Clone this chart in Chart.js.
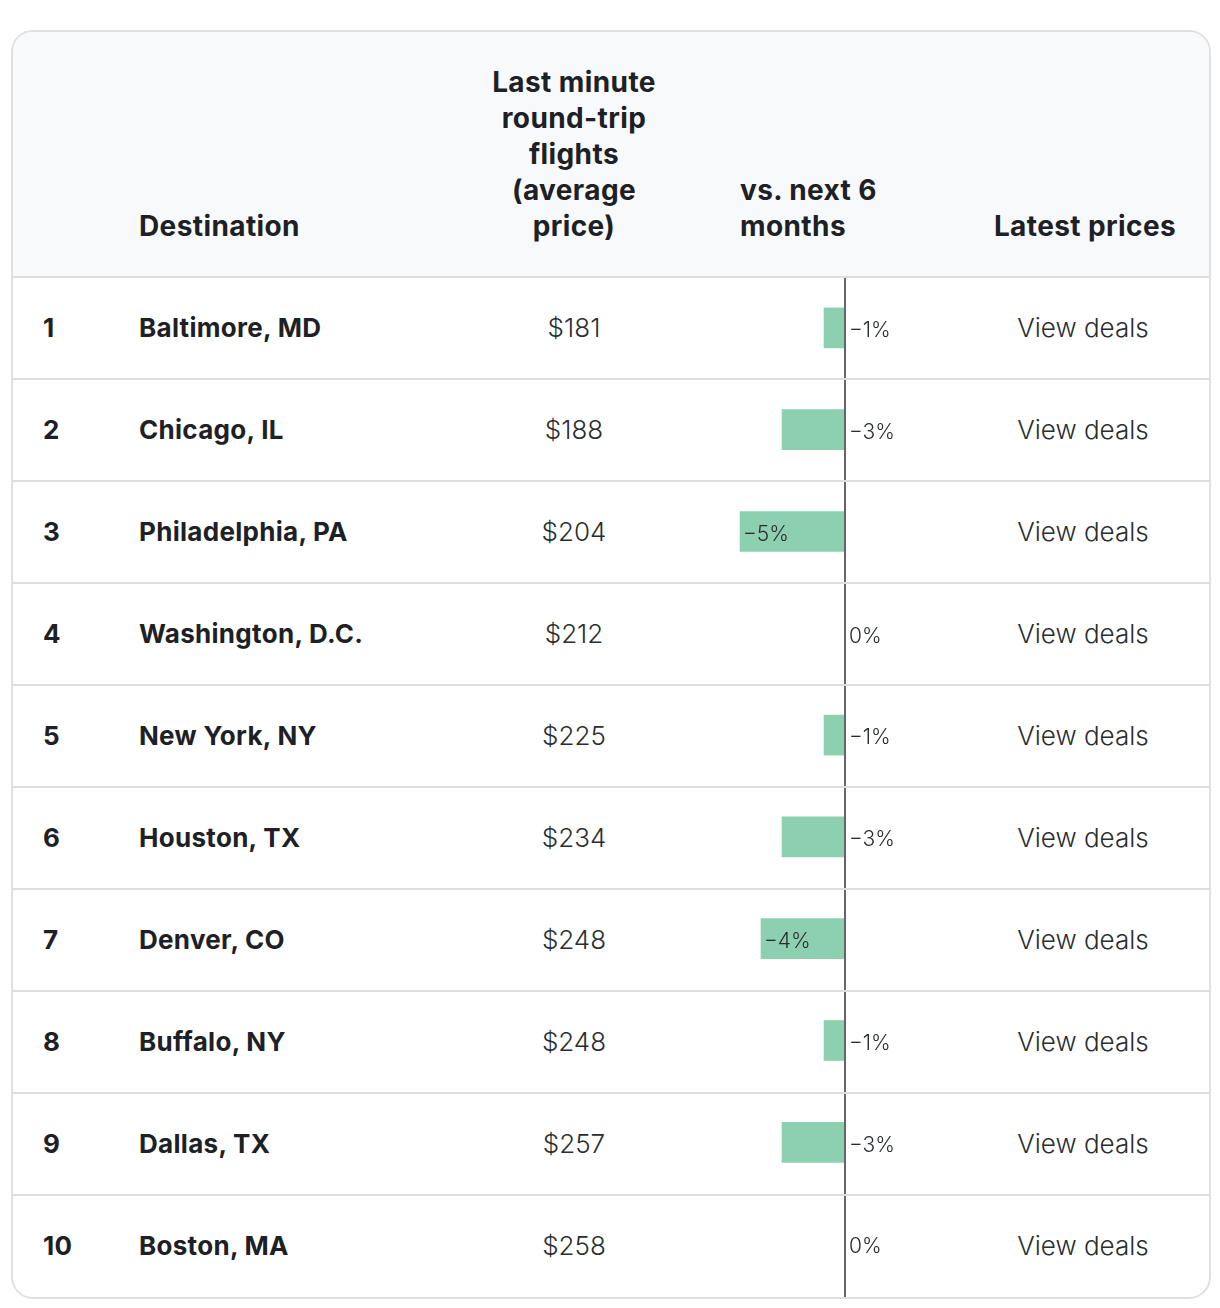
<!DOCTYPE html>
<html>
<head>
<meta charset="utf-8">
<script src="https://cdn.jsdelivr.net/npm/chart.js@4"></script>
<style>
  body { margin: 0; background: #fff; font-family: Inter, "Open Sans", sans-serif; color: #1d2125; }
  #box { position: absolute; left: 11px; top: 30px; width: 1196px; height: 1265px;
         border: 2px solid #e0e0e0; border-radius: 22px; overflow: hidden; background: #fff; }
  #head { position: absolute; left: 0; top: 0; width: 100%; height: 244px; background: #f8f9fb; }
  .h { position: absolute; bottom: 32px; font-weight: 700; font-size: 28px; line-height: 36px; letter-spacing: 0.4px; }
  .sep { position: absolute; left: 0; width: 100%; height: 2px; background: #dedede; z-index: 3; }
  .cell { position: absolute; height: 102px; line-height: 100px; font-size: 26px; white-space: nowrap; }
  .b { font-weight: 700; letter-spacing: 0.3px; }
  .l { font-weight: 300; color: #2a2e32; }
  #wrap { position: absolute; left: 685px; top: 245px; width: 252px; height: 1020px; z-index: 2; }
</style>
</head>
<body>
<div id="box">
  <div id="head">
    <div class="h" style="left:471px;width:180px;text-align:center">Last minute round-trip flights (average price)</div>
    <div class="h" style="left:126px">Destination</div>
    <div class="h" style="left:727px;width:160px">vs. next 6 months</div>
    <div class="h" style="left:962px;width:220px;text-align:center">Latest prices</div>
  </div>
  <div id="rows"></div>
  <div id="wrap"><canvas id="c"></canvas></div>
</div>
<script>
var ranks = [1, 2, 3, 4, 5, 6, 7, 8, 9, 10];
var destinations = ['Baltimore, MD', 'Chicago, IL', 'Philadelphia, PA', 'Washington, D.C.', 'New York, NY',
                    'Houston, TX', 'Denver, CO', 'Buffalo, NY', 'Dallas, TX', 'Boston, MA'];
var prices = ['$181', '$188', '$204', '$212', '$225', '$234', '$248', '$248', '$257', '$258'];
var changes = [-1, -3, -5, 0, -1, -3, -4, -1, -3, 0];
var linkText = 'View deals';

// table rows, drawn as plain html
var rows = document.getElementById('rows');
var html = '<div class="sep" style="top:244px"></div>';
for (var i = 0; i < ranks.length; i++) {
    var y = 246 + i * 102;
    html += '<div class="cell b" style="top:' + y + 'px;left:30px">' + ranks[i] + '</div>';
    html += '<div class="cell b" style="top:' + y + 'px;left:126px">' + destinations[i] + '</div>';
    html += '<div class="cell l" style="top:' + y + 'px;left:461px;width:200px;text-align:center">' + prices[i] + '</div>';
    html += '<div class="cell l" style="top:' + y + 'px;left:970px;width:200px;text-align:center">' + linkText + '</div>';
    if (i < ranks.length - 1)
        html += '<div class="sep" style="top:' + (y + 100) + 'px"></div>';
}
rows.innerHTML = html;

function fmt(v) {
    return (v < 0 ? '\u2212' + Math.abs(v) : v) + '%';
}

// zero line plus the value labels
var labelPlugin = {
    id: 'labels',
    afterDatasetsDraw: function(chart) {
        var ctx = chart.ctx;
        var x = chart.scales.x;
        var x0 = x.getPixelForValue(0);
        ctx.save();
        ctx.fillStyle = '#666';
        ctx.fillRect(x0 - 1, 0, 2, chart.height);
        ctx.font = '300 21px Inter, "Open Sans", sans-serif';
        ctx.fillStyle = '#2a2e32';
        ctx.textBaseline = 'middle';
        var meta = chart.getDatasetMeta(0);
        meta.data.forEach(function(bar, i) {
            var v = changes[i];
            if (v <= -4) ctx.fillText(fmt(v), x.getPixelForValue(v) + 3, bar.y + 3);
            else ctx.fillText(fmt(v), x0 + 4, bar.y + 3);
        });
        ctx.restore();
    }
};

new Chart(document.getElementById('c'), {
    type: 'bar',
    data: {
        labels: destinations,
        datasets: [{
            data: changes,
            backgroundColor: '#8dd0b0',
            barThickness: 40,
            borderWidth: 0
        }]
    },
    options: {
        indexAxis: 'y',
        responsive: true,
        maintainAspectRatio: false,
        animation: false,
        layout: { padding: { top: 0, bottom: 2 } },
        plugins: { legend: { display: false }, tooltip: { enabled: false } },
        scales: {
            x: { display: false, min: -7, max: 5 },
            y: { display: false }
        }
    },
    plugins: [labelPlugin]
});
</script>
</body>
</html>
